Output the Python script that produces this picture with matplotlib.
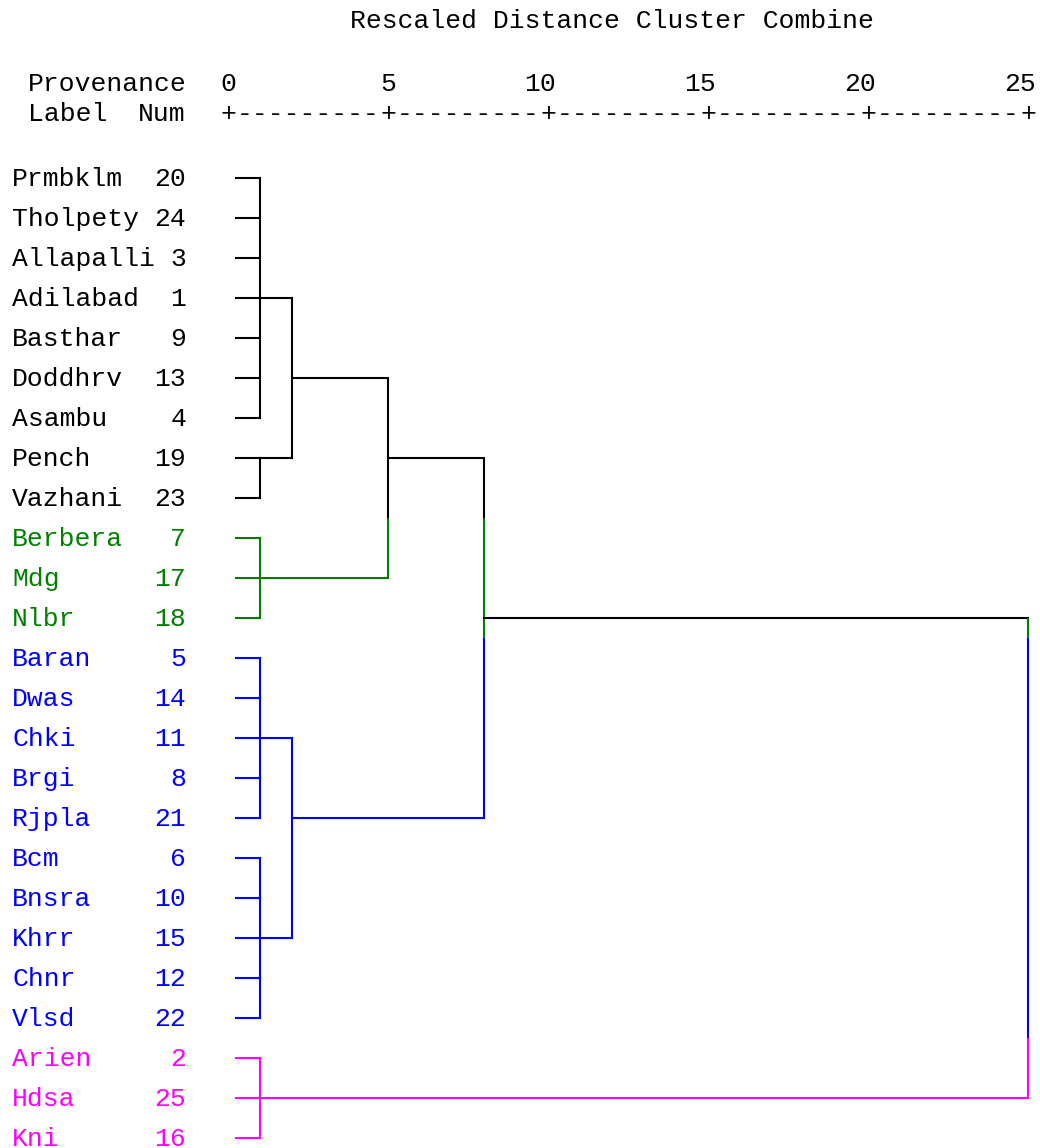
import math
import matplotlib
matplotlib.use('Agg')
import matplotlib.pyplot as plt

plt.rcParams['font.family'] = ['Liberation Mono', 'DejaVu Sans Mono']

names = ['Prmbklm', 'Tholpety', 'Allapalli', 'Adilabad', 'Basthar', 'Doddhrv',
         'Asambu', 'Pench', 'Vazhani', 'Berbera', 'Mdg', 'Nlbr', 'Baran', 'Dwas',
         'Chki', 'Brgi', 'Rjpla', 'Bcm', 'Bnsra', 'Khrr', 'Chnr', 'Vlsd',
         'Arien', 'Hdsa', 'Kni']
nums = [20, 24, 3, 1, 9, 13, 4, 19, 23, 7, 17, 18, 5, 14, 11, 8, 21, 6, 10,
        15, 12, 22, 2, 25, 16]
groups = [0] * 9 + [1] * 3 + [2] * 10 + [3] * 3
group_colors = ['#000000', '#008000', '#0000ff', '#ff00ff']

# agglomeration schedule: (members, rescaled distance); new nodes get ids 25, 26, ...
merges = [
    ([0, 1, 2, 3, 4, 5, 6], 1),
    ([7, 8], 1),
    ([25, 26], 2),
    ([9, 10, 11], 1),
    ([27, 28], 5),
    ([12, 13, 14, 15, 16], 1),
    ([17, 18, 19, 20, 21], 1),
    ([30, 31], 2),
    ([29, 32], 8),
    ([22, 23, 24], 1),
    ([33, 34], 25),
]
ticks = [0, 5, 10, 15, 20, 25]

leaf_start = 0.25
lw = 1.5
fs = 19

fig = plt.figure(figsize=(10.4, 11.48), dpi=100)
ax = fig.add_axes([0, 0, 1, 1])
ax.set_xlim(-7.125, 25.375)
ax.set_ylim(24.25, -4.45)
ax.axis('off')

n = len(names)
pos = {i: i for i in range(n)}
height = {i: leaf_start for i in range(n)}
leaves = {i: [i] for i in range(n)}


def color_of(node):
    g = set(groups[l] for l in leaves[node])
    return group_colors[g.pop()] if len(g) == 1 else '#000000'


for k, (members, h) in enumerate(merges):
    node = n + k
    leaves[node] = sum((leaves[m] for m in members), [])
    ps = [pos[m] for m in members]
    top, bottom = min(ps), max(ps)
    pos[node] = math.floor((top + bottom) / 2)
    height[node] = h
    for m in members:
        ax.plot([height[m], h], [pos[m], pos[m]], color=color_of(m), lw=lw,
                solid_capstyle='projecting')
    if len(set(groups[l] for l in leaves[node])) == 1:
        ax.plot([h, h], [top, bottom], color=color_of(node), lw=lw)
    else:
        # mixed link: colour the vertical row by row
        for r in range(top, bottom + 1):
            y0 = max(top, r - 0.5)
            y1 = min(bottom, r + 0.5)
            ax.plot([h, h], [y0, y1], color=group_colors[groups[r]], lw=lw,
                    solid_capstyle='butt')

# leaf labels
for i in range(n):
    c = group_colors[groups[i]]
    ax.text(-6.75, i + 0.2, names[i], color=c, fontsize=fs, va='baseline', ha='left')
    ax.text(-1.3125, i + 0.2, str(nums[i]), color=c, fontsize=fs, va='baseline', ha='right')

# header
ax.text(12, -3.75, 'Rescaled Distance Cluster Combine', fontsize=fs, ha='center', va='baseline')
ax.text(-6.25, -2.175, 'Provenance', fontsize=fs, ha='left', va='baseline')
ax.text(-6.25, -1.425, 'Label', fontsize=fs, ha='left', va='baseline')
ax.text(-1.3125, -1.425, 'Num', fontsize=fs, ha='right', va='baseline')
for t in ticks:
    ax.text(t + 0.25, -2.175, str(t), fontsize=fs, ha='right', va='baseline')
    ax.text(t, -1.425, '+', fontsize=fs, ha='center', va='baseline')
for a, b in zip(ticks[:-1], ticks[1:]):
    ax.text((a + b) / 2, -1.425, '-' * 9, fontsize=fs, ha='center', va='baseline')

fig.savefig('out.png', dpi=100)
